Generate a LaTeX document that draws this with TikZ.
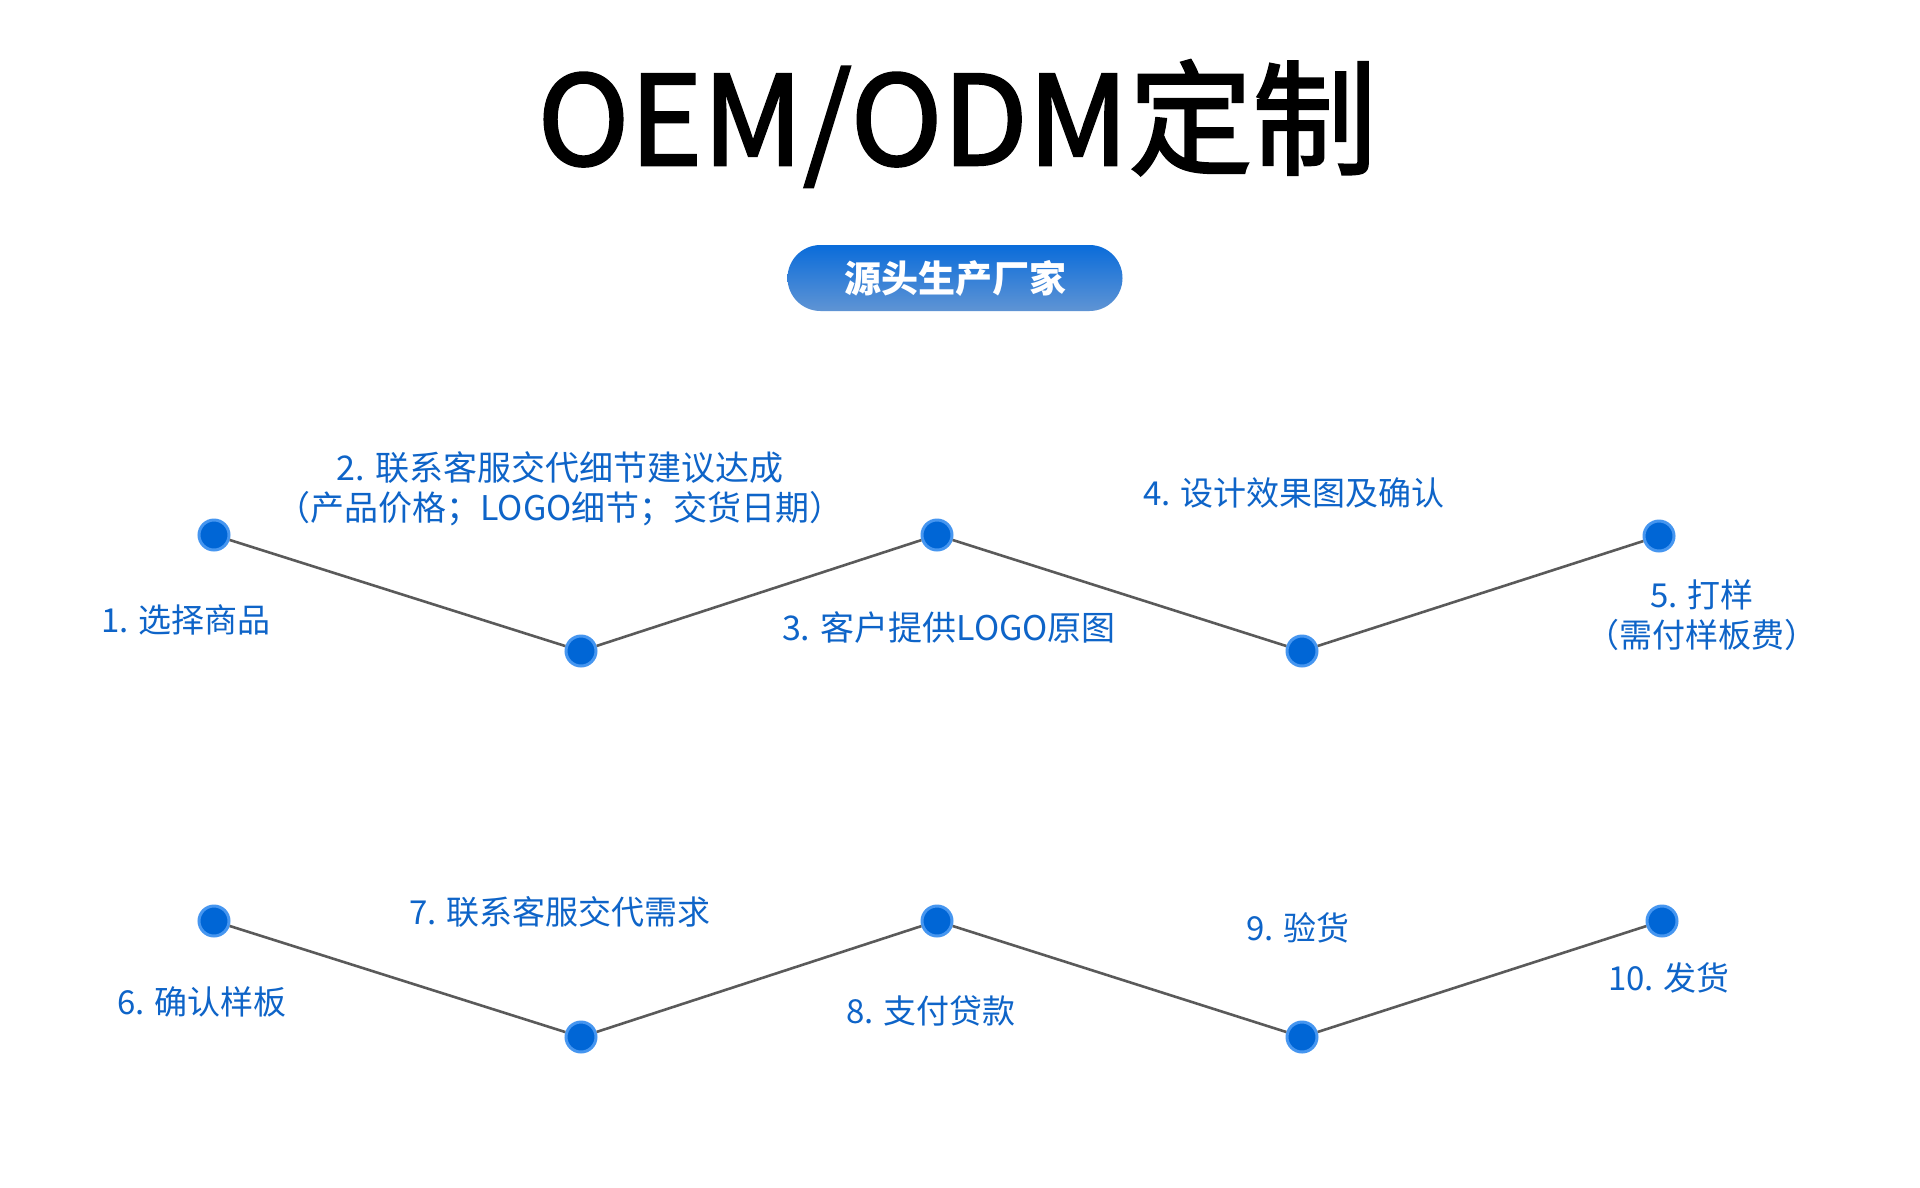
\documentclass[tikz,border=0pt]{standalone}
\usepackage{fontspec}
\setmainfont{Noto Sans CJK SC}
\newfontfamily\titlefont[FakeBold=2]{Noto Sans CJK SC}
\definecolor{lblue}{RGB}{14,100,200}
\definecolor{dotblue}{RGB}{0,102,214}
\definecolor{ringblue}{RGB}{70,150,240}
\definecolor{linegray}{RGB}{90,90,90}
\definecolor{btntop}{RGB}{10,108,218}
\definecolor{btnbot}{RGB}{95,148,212}
\begin{document}
\begin{tikzpicture}[x=1pt,y=-1pt,
  dot/.style={circle, fill=dotblue, draw=ringblue, line width=3pt, minimum size=30pt, inner sep=0pt},
  lbl/.style={text=lblue, font=\fontsize{33}{40}\selectfont, align=center, inner sep=0pt, anchor=base},
  link/.style={draw=linegray, line width=2.6pt}]
\fill[white] (0,0) rectangle (1920,1187);
\useasboundingbox (0,0) rectangle (1920,1187);

% title
\node[anchor=base, inner sep=0pt] (title) at (957,165)
  {\fontsize{124}{130}\selectfont\titlefont OEM/ODM定制};

% button
\node[rounded corners=33pt, top color=btntop, bottom color=btnbot, draw=none,
  minimum width=335pt, minimum height=66pt, inner sep=0pt,
  text=white, font=\fontsize{37}{40}\selectfont\bfseries] (btn) at (955,278) {源头生产厂家};

% row 1 dots
\node[dot] (a1) at (214,535) {};
\node[dot] (a2) at (581,651) {};
\node[dot] (a3) at (937,535) {};
\node[dot] (a4) at (1302,651) {};
\node[dot] (a5) at (1659,536) {};
\draw[link] (a1) -- (a2);
\draw[link] (a2) -- (a3);
\draw[link] (a3) -- (a4);
\draw[link] (a4) -- (a5);

% row 2 dots
\node[dot] (b1) at (214,921) {};
\node[dot] (b2) at (581,1037) {};
\node[dot] (b3) at (937,921) {};
\node[dot] (b4) at (1302,1037) {};
\node[dot] (b5) at (1662,921) {};
\draw[link] (b1) -- (b2);
\draw[link] (b2) -- (b3);
\draw[link] (b3) -- (b4);
\draw[link] (b4) -- (b5);

% row 1 labels
\node[lbl] (l1) at (186,632) {1. 选择商品};
\node[lbl, font=\fontsize{34}{40}\selectfont] (l2) at (560,520) {2. 联系客服交代细节建议达成\\（产品价格；LOGO细节；交货日期）};
\node[lbl, font=\fontsize{34}{40}\selectfont] (l3) at (949,640) {3. 客户提供LOGO原图};
\node[lbl] (l4) at (1294,505) {4. 设计效果图及确认};
\node[lbl] (l5) at (1702,647) {5. 打样\\（需付样板费）};

% row 2 labels
\node[lbl] (l6) at (202,1014) {6. 确认样板};
\node[lbl] (l7) at (560,924) {7. 联系客服交代需求};
\node[lbl] (l8) at (931,1023) {8. 支付贷款};
\node[lbl] (l9) at (1298,940) {9. 验货};
\node[lbl] (l10) at (1669,990) {10. 发货};
\end{tikzpicture}
\end{document}
